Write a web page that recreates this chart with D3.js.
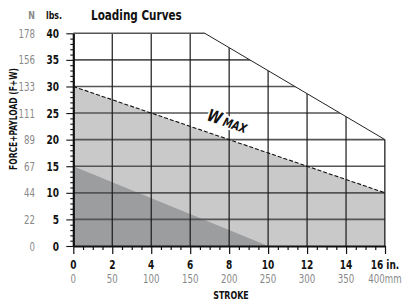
<!DOCTYPE html>
<html>
<head>
  <script src="https://d3js.org/d3.v7.min.js"></script>
  <style>
    body { margin: 0; background: #fff; }
    text { font-family: "DejaVu Sans Condensed", "Liberation Sans", sans-serif; }
  </style>
</head>
<body>
  <svg id="chart"></svg>
  <script>
    // Data
    const strokeIn = [0, 2, 4, 6, 8, 10, 12, 14, 16];
    const strokeMm = [0, 50, 100, 150, 200, 250, 300, 350, 400];
    const loadLbs = [0, 5, 10, 15, 20, 25, 30, 35, 40];
    const loadN = [0, 22, 44, 67, 89, 111, 133, 156, 178];
    // allowed envelope (in, lbs)
    const envelope = [[0, 40], [6.75, 40], [16, 20], [16, 0], [0, 0]];
    // W max line
    const wMax = [[0, 30], [16, 10]];
    // lower curve
    const lowCurve = [[0, 15], [10, 0]];

    const W = 405, H = 302;
    const svg = d3.select("#chart").attr("width", W).attr("height", H);

    const x = d3.scaleLinear().domain([0, 16]).range([73.3, 385]);
    const y = d3.scaleLinear().domain([0, 40]).range([246, 33.3]);
    const line = d3.line().x(d => x(d[0])).y(d => y(d[1]));

    // narrow text helper (squeeze horizontally like a condensed face)
    const SX = 0.8;
    function txt(g, px, py, s, o = {}) {
      const rot = o.rotate ? ` rotate(${o.rotate})` : "";
      return g.append("text")
        .attr("transform", `translate(${px},${py})${rot} scale(${SX},1)`)
        .attr("text-anchor", o.anchor || "start")
        .attr("font-size", o.size || 12)
        .attr("font-weight", o.bold ? "bold" : "normal")
        .attr("fill", o.fill || "#111")
        .text(s);
    }

    svg.append("clipPath").attr("id", "env")
       .append("path").attr("d", line(envelope) + "Z");

    const plot = svg.append("g").attr("clip-path", "url(#env)");

    // light area under W max
    plot.append("path")
        .attr("d", line([...wMax, [16, 0], [0, 0]]) + "Z")
        .attr("fill", "#c9c9c9");
    // dark area
    plot.append("path")
        .attr("d", line([...lowCurve, [0, 0]]) + "Z")
        .attr("fill", "#9c9d9f");

    // grid
    plot.selectAll(".hg").data(loadLbs.slice(1)).enter().append("line")
        .attr("x1", x(0)).attr("x2", x(16))
        .attr("y1", d => y(d)).attr("y2", d => y(d))
        .attr("stroke", "#555").attr("stroke-width", 1.6);
    plot.selectAll(".vg").data(strokeIn.slice(1)).enter().append("line")
        .attr("x1", d => x(d)).attr("x2", d => x(d))
        .attr("y1", y(0)).attr("y2", y(40))
        .attr("stroke", "#1a1a1a").attr("stroke-width", 1.2);

    // envelope outline
    svg.append("path")
       .attr("d", line(envelope.slice(0, 2)))
       .attr("fill", "none").attr("stroke", "#555").attr("stroke-width", 1.6);
    svg.append("path")
       .attr("d", line(envelope.slice(1, 4)))
       .attr("fill", "none").attr("stroke", "#222").attr("stroke-width", 1);

    // W max dashed line
    svg.append("path")
       .attr("d", line(wMax))
       .attr("fill", "none").attr("stroke", "#111").attr("stroke-width", 1.1)
       .attr("stroke-dasharray", "4,2");

    // W MAX label
    const lab = svg.append("text")
       .attr("transform", `translate(206,120) rotate(19) scale(0.85,1)`)
       .attr("font-weight", "bold").attr("font-style", "italic")
       .attr("fill", "#111")
       .attr("stroke", "#fff").attr("stroke-width", 4)
       .attr("paint-order", "stroke").attr("stroke-linejoin", "round");
    lab.append("tspan").attr("font-size", 17).text("W");
    lab.append("tspan").attr("font-size", 12.5).attr("dx", 3).text("MAX");

    // axes
    const xAxis = d3.axisBottom(x)
       .tickValues(d3.range(0, 16.01, 0.5)).tickFormat("")
       .tickSize(4).tickSizeOuter(0);
    const gx = svg.append("g").attr("transform", `translate(0,${y(0)})`).call(xAxis);
    gx.select(".domain").attr("stroke", "#111").attr("stroke-width", 2.2);
    gx.selectAll(".tick line").attr("stroke", "#111").attr("stroke-width", 1.2)
      .attr("y2", d => (d % 2 === 0 ? 8 : 4));

    const yAxis = d3.axisLeft(y)
       .tickValues(d3.range(0, 40.01, 1)).tickFormat("")
       .tickSize(3).tickSizeOuter(0);
    const gy = svg.append("g").attr("transform", `translate(${x(0)},0)`).call(yAxis);
    gy.select(".domain").attr("stroke", "#111").attr("stroke-width", 2.2);
    gy.selectAll(".tick line").attr("stroke", "#111").attr("stroke-width", 1.1)
      .attr("x2", d => (d % 5 === 0 ? -7 : -3));

    // tick labels
    loadLbs.forEach(d => txt(svg, 59, y(d) + 4.5, d, { anchor: "end", size: 12.5, bold: true }));
    loadN.forEach((d, i) => txt(svg, 35, y(loadLbs[i]) + 4.5, d, { anchor: "end", size: 12, fill: "#888" }));
    strokeIn.forEach(d => txt(svg, x(d), 269, d === 16 ? "16 in." : d, { anchor: "middle", size: 12.5, bold: true }));
    strokeMm.forEach((d, i) => txt(svg, x(strokeIn[i]), 283, d === 400 ? "400mm" : d, { anchor: "middle", size: 12, fill: "#888" }));

    // headers and titles
    txt(svg, 35, 19, "N", { anchor: "end", size: 11, bold: true, fill: "#888" });
    txt(svg, 46, 19, "lbs.", { size: 11, bold: true });
    txt(svg, 91, 20, "Loading Curves", { size: 14.5, bold: true });
    txt(svg, 231, 299, "STROKE", { anchor: "middle", size: 11, bold: true });
    txt(svg, 17, 119, "FORCE+PAYLOAD (F+W)", { anchor: "middle", size: 10.5, bold: true, rotate: -90 });
  </script>
</body>
</html>
